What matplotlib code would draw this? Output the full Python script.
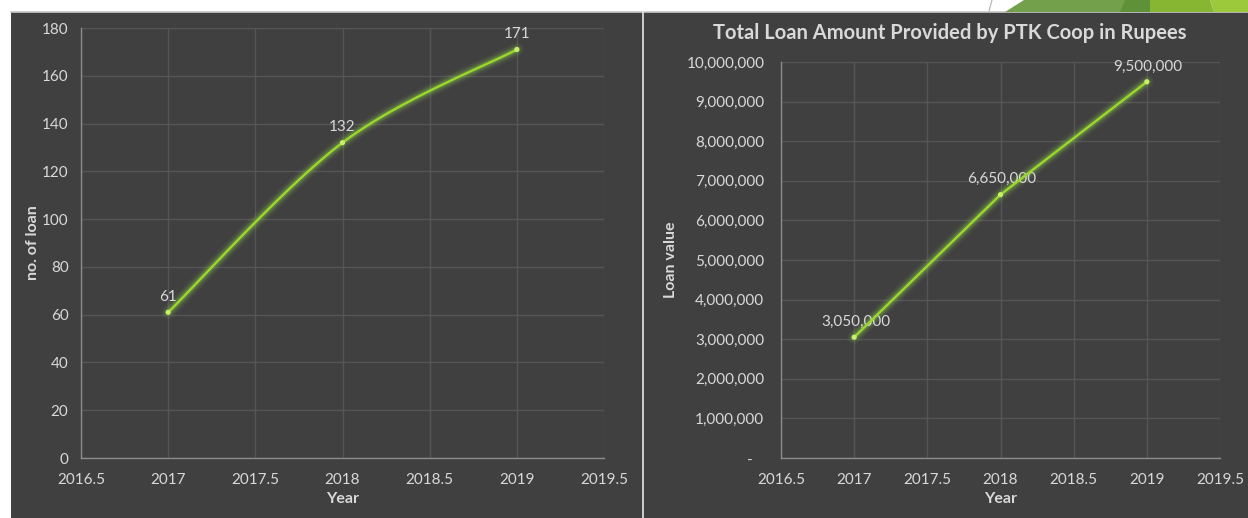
import matplotlib.pyplot as plt
import numpy as np
from matplotlib.patches import Rectangle, Polygon
from matplotlib.lines import Line2D
from matplotlib.ticker import FuncFormatter

# data
years = [2017, 2018, 2019]
loan_count = [61, 132, 171]
loan_amount = [3050000, 6650000, 9500000]

bg = '#404040'
txt = '#d9d9d9'
grid_c = '#555555'
spine_c = '#8c8c8c'
green = '#92d050'
font = ['Lato', 'DejaVu Sans']

plt.rcParams['font.family'] = font


def smooth(x, y, n=60):
    # catmull-rom style curve through the points (like Excel smoothed line)
    x = np.asarray(x, float)
    y = np.asarray(y, float)
    px = np.concatenate([[x[0]], x, [x[-1]]])
    py = np.concatenate([[y[0]], y, [y[-1]]])
    xs, ys = [], []
    for i in range(1, len(px) - 2):
        t = np.linspace(0, 1, n)
        for arr, out in ((px, xs), (py, ys)):
            p0, p1, p2, p3 = arr[i - 1], arr[i], arr[i + 1], arr[i + 2]
            out.extend(0.5 * ((2 * p1) + (-p0 + p2) * t
                              + (2 * p0 - 5 * p1 + 4 * p2 - p3) * t ** 2
                              + (-p0 + 3 * p1 - 3 * p2 + p3) * t ** 3))
    return np.array(xs), np.array(ys)


def style(ax, ylabel, ypad, ylabelpad):
    ax.set_facecolor(bg)
    ax.set_xlim(2016.5, 2019.5)
    ax.set_xticks(np.arange(2016.5, 2019.6, 0.5))
    ax.xaxis.set_major_formatter(FuncFormatter(lambda v, p: f'{v:g}'))
    ax.grid(True, color=grid_c, lw=1)
    ax.set_axisbelow(True)
    for s in ['top', 'right']:
        ax.spines[s].set_visible(False)
    for s in ['left', 'bottom']:
        ax.spines[s].set_color(spine_c)
        ax.spines[s].set_linewidth(1)
    ax.tick_params(length=0, colors=txt, labelsize=11)
    ax.tick_params(axis='x', pad=10.5)
    ax.tick_params(axis='y', pad=ypad)
    ax.set_xlabel('Year', color=txt, fontsize=11.5, fontweight='bold', labelpad=4)
    ax.set_ylabel(ylabel, color=txt, fontsize=11.5, fontweight='bold', labelpad=ylabelpad)


def glow_line(ax, x, y):
    for w, a in [(10, 0.06), (7.5, 0.09), (5.5, 0.13), (3.8, 0.2)]:
        ax.plot(x, y, color=green, lw=w, alpha=a, solid_capstyle='round', zorder=3)
    ax.plot(x, y, color='#9ad82a', lw=1.7, zorder=4)


fig = plt.figure(figsize=(12.48, 5.18), dpi=100, facecolor='white')

# slide background pieces
fig.patches.append(Rectangle((11 / 1248, 0), 1, 506 / 518, transform=fig.transFigure,
                             facecolor=bg, edgecolor='none', zorder=-10))
fig.lines.append(Line2D([11 / 1248, 1], [506 / 518, 506 / 518], transform=fig.transFigure,
                        color='#c8c8c8', lw=1.2, zorder=-5))
fig.lines.append(Line2D([643 / 1248, 643 / 1248], [0, 506 / 518], transform=fig.transFigure,
                        color='#e6e6e6', lw=1.2, zorder=-5))
fig.lines.append(Line2D([989 / 1248, 992 / 1248], [507 / 518, 1], transform=fig.transFigure,
                        color='#b0b0b0', lw=0.8, zorder=-5))
for pts, c in [([(1005, 12), (1024, 0), (1130, 0), (1150, 12)], '#72a04b'),
               ([(1120, 12), (1125, 0), (1150, 0), (1150, 12)], '#5f9238'),
               ([(1150, 12), (1150, 0), (1210, 0), (1214, 12)], '#86b632'),
               ([(1214, 12), (1210, 0), (1248, 0), (1248, 12)], '#9cc83c')]:
    fig.patches.append(Polygon([(x / 1248, 1 - y / 518) for x, y in pts],
                               transform=fig.transFigure, facecolor=c,
                               edgecolor='none', zorder=-5))

# left chart: number of loans
ax1 = fig.add_axes([81 / 1248, 60 / 518, 523 / 1248, 430 / 518])
style(ax1, 'no. of loan', 9, 1)
ax1.set_ylim(0, 180)
ax1.set_yticks(range(0, 181, 20))
sx, sy = smooth(years, loan_count)
glow_line(ax1, sx, sy)
ax1.scatter(years, loan_count, s=14, color='#c6f06a', edgecolor='none', zorder=5)
for x, y in zip(years, loan_count):
    ax1.annotate(str(y), (x, y), xytext=(0, 6), textcoords='offset points',
                 ha='center', va='bottom', color=txt, fontsize=11)

# right chart: loan amount
ax2 = fig.add_axes([781 / 1248, 60 / 518, 439 / 1248, 396 / 518])
style(ax2, 'Loan value', 12, 6)
ax2.set_ylim(0, 10000000)
ax2.set_yticks(range(0, 10000001, 1000000))
ax2.yaxis.set_major_formatter(FuncFormatter(
    lambda v, p: '-   ' if v == 0 else f'{v:,.0f}'))
glow_line(ax2, years, loan_amount)
ax2.scatter(years, loan_amount, s=14, color='#c6f06a', edgecolor='none', zorder=5)
for x, y in zip(years, loan_amount):
    ax2.annotate(f'{y:,}', (x, y), xytext=(1, 6), textcoords='offset points',
                 ha='center', va='bottom', color=txt, fontsize=11)

fig.text(950 / 1248, 1 - 33 / 518, 'Total Loan Amount Provided by PTK Coop in Rupees',
         ha='center', va='center', color=txt, fontsize=14.5, fontweight='bold')

fig.savefig('out.png', dpi=100, facecolor='white')
